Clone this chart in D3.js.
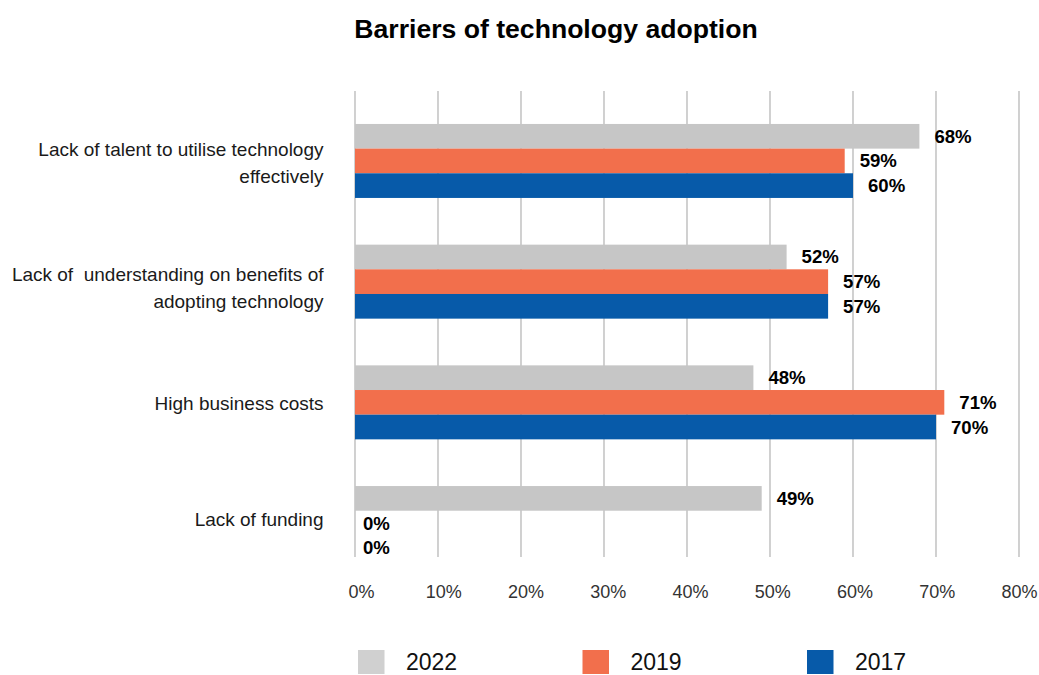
<!DOCTYPE html>
<html>
<head>
<meta charset="utf-8">
<script src="https://cdn.jsdelivr.net/npm/d3@7"></script>
<style>
  html, body { margin: 0; padding: 0; background: #ffffff; }
  svg { display: block; font-family: "Liberation Sans", Arial, Helvetica, sans-serif; }
  text { white-space: pre; }
</style>
</head>
<body>
<svg id="chart" width="1039" height="675"></svg>
<script>
// Survey categories (line breaks mark where each label wraps)
const categories = [
  "Lack of talent to utilise technology\neffectively",
  "Lack of  understanding on benefits of\nadopting technology",
  "High business costs",
  "Lack of funding"
];

// Survey years, drawn top to bottom inside each category
const seriesNames = ["2022", "2019", "2017"];

// Share of respondents (%) per category, one array per year
const values2022 = [68, 52, 48, 49];
const values2019 = [59, 57, 71, 0];
const values2017 = [60, 57, 70, 0];

// Axis ticks (%)
const tickValues = [0, 10, 20, 30, 40, 50, 60, 70, 80];

const seriesValues = { "2022": values2022, "2019": values2019, "2017": values2017 };
const colors = { "2022": "#c6c6c6", "2019": "#f26f4c", "2017": "#075aa9" };
const legendColors = { "2022": "#d0d0d0", "2019": "#f26f4c", "2017": "#075aa9" };

const svg = d3.select("#chart");

// Horizontal value scale
const x = d3.scaleLinear().domain([0, 80]).range([355, 1019]);

// Category bands and the bars inside each band
const y = d3.scaleBand()
  .domain(categories)
  .range([100.6, 583.4])
  .paddingInner(0.387)
  .paddingOuter(0.1935);

const ySeries = d3.scaleBand()
  .domain(seriesNames)
  .range([0, y.bandwidth()]);

// Title
svg.append("text")
  .attr("x", 556)
  .attr("y", 38)
  .attr("text-anchor", "middle")
  .attr("font-size", 26.6)
  .attr("font-weight", "bold")
  .attr("fill", "#000")
  .text("Barriers of technology adoption");

// Vertical gridlines
svg.append("g")
  .selectAll("line")
  .data(tickValues)
  .join("line")
  .attr("x1", d => x(d))
  .attr("x2", d => x(d))
  .attr("y1", 91)
  .attr("y2", 557)
  .attr("stroke", "#bdbdbd")
  .attr("stroke-width", 1.4);

// Bottom axis tick labels
const axis = d3.axisBottom(x)
  .tickValues(tickValues)
  .tickFormat(d => d + "%")
  .tickSize(0)
  .tickPadding(0);

const axisG = svg.append("g")
  .attr("transform", "translate(0,585)")
  .call(axis);
axisG.select(".domain").remove();
axisG.selectAll("text")
  .attr("font-size", 18)
  .attr("font-family", "Liberation Sans, Arial, sans-serif")
  .attr("fill", "#333")
  .attr("dy", "0.71em")
  .attr("dx", (d, i) => 6 * (1 - i / (tickValues.length - 1)));

// Category labels, right-aligned beside the plot
const catG = svg.append("g");
categories.forEach((cat, ci) => {
  const lines = cat.split("\n");
  const lineH = 26.5;
  const shift = lines.length > 1 ? (ci === 0 ? 2 : 6) : (ci === 3 ? -4 : 1);
  const cy = y(cat) + y.bandwidth() / 2 + shift;
  const startY = cy - (lines.length - 1) * lineH / 2;
  const t = catG.append("text")
    .attr("text-anchor", "end")
    .attr("font-size", 19)
    .attr("fill", "#1a1a1a");
  lines.forEach((ln, i) => {
    t.append("tspan")
      .attr("x", 323.5)
      .attr("y", startY + i * lineH)
      .attr("dy", "0.35em")
      .text(ln);
  });
});

// Bars grouped by category
const rows = [];
categories.forEach((cat, ci) => {
  seriesNames.forEach(s => {
    rows.push({ cat, series: s, value: seriesValues[s][ci] });
  });
});

const groups = svg.append("g")
  .selectAll("g")
  .data(categories)
  .join("g")
  .attr("transform", d => `translate(0,${y(d)})`);

groups.selectAll("rect")
  .data(cat => rows.filter(r => r.cat === cat))
  .join("rect")
  .attr("x", x(0))
  .attr("y", d => ySeries(d.series))
  .attr("width", d => x(d.value) - x(0))
  .attr("height", ySeries.bandwidth())
  .attr("fill", d => colors[d.series]);

// Value labels to the right of each bar
groups.selectAll("text")
  .data(cat => rows.filter(r => r.cat === cat))
  .join("text")
  .attr("x", d => x(d.value) + (d.value === 0 ? 8 : 15))
  .attr("y", d => ySeries(d.series) + ySeries.bandwidth() / 2)
  .attr("dy", "0.35em")
  .attr("font-size", 18.6)
  .attr("font-weight", "bold")
  .attr("fill", "#000")
  .text(d => d.value + "%");

// Legend along the bottom
const legendX = d3.scalePoint()
  .domain(seriesNames)
  .range([358, 807]);

const legend = svg.append("g")
  .selectAll("g")
  .data(seriesNames)
  .join("g")
  .attr("transform", d => `translate(${legendX(d)},650)`);

legend.append("rect")
  .attr("width", 26.5)
  .attr("height", 24)
  .attr("fill", d => legendColors[d]);

legend.append("text")
  .attr("x", 48)
  .attr("y", 12)
  .attr("dy", "0.35em")
  .attr("font-size", 23)
  .attr("fill", "#111")
  .text(d => d);
</script>
</body>
</html>
